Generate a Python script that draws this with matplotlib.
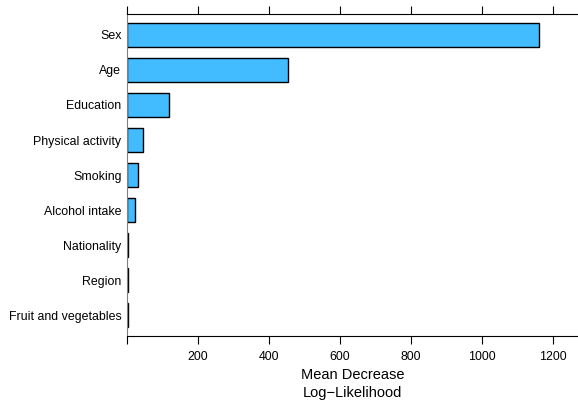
import matplotlib
matplotlib.use('Agg')
import matplotlib.pyplot as plt

# data
variables = ['Sex', 'Age', 'Education', 'Physical activity', 'Smoking',
             'Alcohol intake', 'Nationality', 'Region', 'Fruit and vegetables']
importance = [1161, 453, 119, 46, 31, 22.5, 2, 2, 2]
xticks = [0, 200, 400, 600, 800, 1000, 1200]
xticklabels = ['', '200', '400', '600', '800', '1000', '1200']

plt.rcParams['font.family'] = ['Liberation Sans', 'DejaVu Sans']

fig = plt.figure(figsize=(5.78, 4.04), dpi=100)
ax = fig.add_axes([0.2197, 0.168, 0.7803, 0.7975])

ypos = list(range(len(variables)))
ax.barh(ypos, importance, height=0.67, color='#42bcff',
        edgecolor='black', linewidth=1.0, zorder=2)

ax.set_xlim(0, 1270)
ax.set_ylim(len(variables) - 0.4, -0.6)
ax.set_yticks(ypos)
ax.set_yticklabels(variables, fontsize=8.9)
ax.tick_params(axis='y', length=0, pad=4)

ax.set_xticks(xticks)
ax.set_xticklabels(xticklabels, fontsize=8.9)
ax.tick_params(axis='x', direction='out', length=6, width=0.8,
               top=True, labeltop=False, pad=5)

ax.spines['right'].set_visible(False)
ax.spines['left'].set_color('#808080')
for s in ['top', 'bottom']:
    ax.spines[s].set_linewidth(0.8)

ax.set_xlabel('Mean Decrease\nLog\u2212Likelihood', fontsize=10.5, labelpad=3,
              linespacing=1.4)

fig.savefig('out.png', dpi=100)
